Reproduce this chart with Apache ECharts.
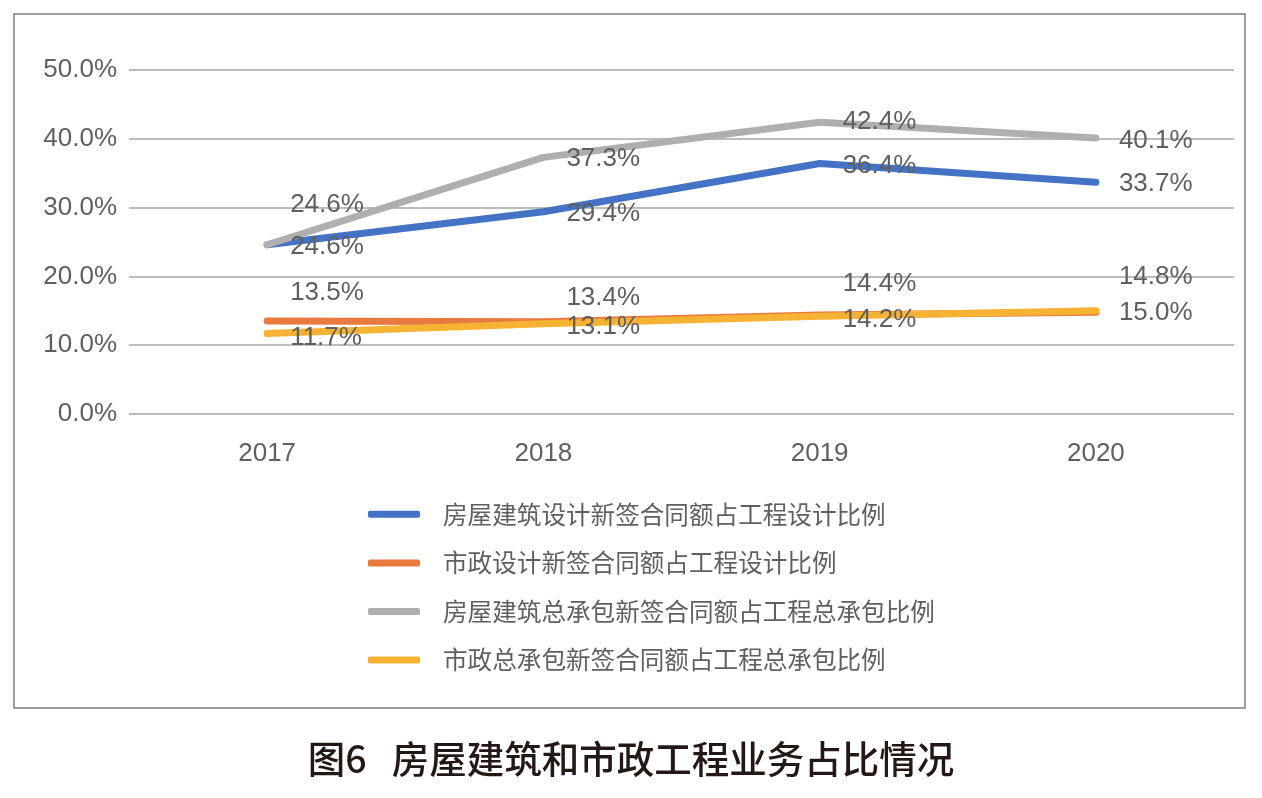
<!DOCTYPE html>
<html><head><meta charset="utf-8">
<script src="https://cdn.jsdelivr.net/npm/echarts@6/dist/echarts.min.js"></script>
<style>html,body{margin:0;padding:0;background:#fff}#c{width:1262px;height:798px}</style>
</head><body><div id="c"></div>
<script>
const years = ['2017','2018','2019','2020'];
const seriesNames = ['房屋建筑设计新签合同额占工程设计比例','市政设计新签合同额占工程设计比例','房屋建筑总承包新签合同额占工程总承包比例','市政总承包新签合同额占工程总承包比例'];
const housingDesign = [24.6, 29.4, 36.4, 33.7];
const municipalDesign = [13.5, 13.4, 14.4, 14.8];
const housingEpc = [24.6, 37.3, 42.4, 40.1];
const municipalEpc = [11.7, 13.1, 14.2, 15.0];
const yTicks = [0, 10, 20, 30, 40, 50];
const titleText = '图6   房屋建筑和市政工程业务占比情况';

const colors = ['#4472C4', '#E8793F', '#AFAFB2', '#F6B233'];
const FONT = '"Liberation Sans", "Noto Sans CJK SC", sans-serif';
const labelBase = {show:true, position:'right', distance:23, color:'#5f5f5f', fontSize:26, fontFamily:FONT, formatter: p => p.value.toFixed(1)+'%'};
const labelOffsets = [
  [[0,2],[0,2],[0,2],[0,2]],
  [[0,-28],[0,-24],[0,-31],[0,-35]],
  [[0,-40],[0,1],[0,0],[0,3]],
  [[0,4],[0,3],[0,4],[0,2]]
];
const all = [housingDesign, municipalDesign, housingEpc, municipalEpc];
const chart = echarts.init(document.getElementById('c'));
chart.setOption({
  animation:false,
  color: colors,
  grid:{left:129, right:28, top:70, bottom:384},
  xAxis:{type:'category', data:years, boundaryGap:true,
    axisLine:{show:false}, axisTick:{show:false},
    axisLabel:{color:'#5f5f5f', fontSize:26, fontFamily:FONT, margin:27}},
  yAxis:{type:'value', min:yTicks[0], max:yTicks[yTicks.length-1], interval:10,
    axisLine:{show:false}, axisTick:{show:false},
    splitLine:{lineStyle:{color:'#A6A6A6', width:1.5}},
    axisLabel:{color:'#5f5f5f', fontSize:26, fontFamily:FONT, margin:12, formatter: v => v.toFixed(1)+'%'}},
  legend:{orient:'vertical', left:363, top:497, itemGap:24, itemWidth:52, itemHeight:7,
    icon:'roundRect',
    textStyle:{color:'#5f5f5f', fontSize:24.6, fontFamily:'"Noto Sans CJK SC", sans-serif', padding:[0,0,0,18]},
    data: seriesNames},
  series: all.map((arr,i)=>({
    name: seriesNames[i], type:'line', symbol:'circle', symbolSize:0.01, showSymbol:true,
    lineStyle:{width:7, cap:'round', join:'round'},
    data: arr.map((v,j)=>({value:v, label:Object.assign({}, labelBase, {offset: labelOffsets[i][j]})})),
    label: labelBase
  })),
  graphic:[
    {type:'rect', shape:{x:14, y:14, width:1231, height:694}, style:{fill:'none', stroke:'#7F7F7F', lineWidth:1.5}, silent:true},
    {type:'text', left:'center', top:740, style:{text:titleText, fill:'#231815', fontSize:37.5, fontWeight:500, fontFamily:'"Noto Sans CJK SC", sans-serif'}}
  ]
});
</script></body></html>
